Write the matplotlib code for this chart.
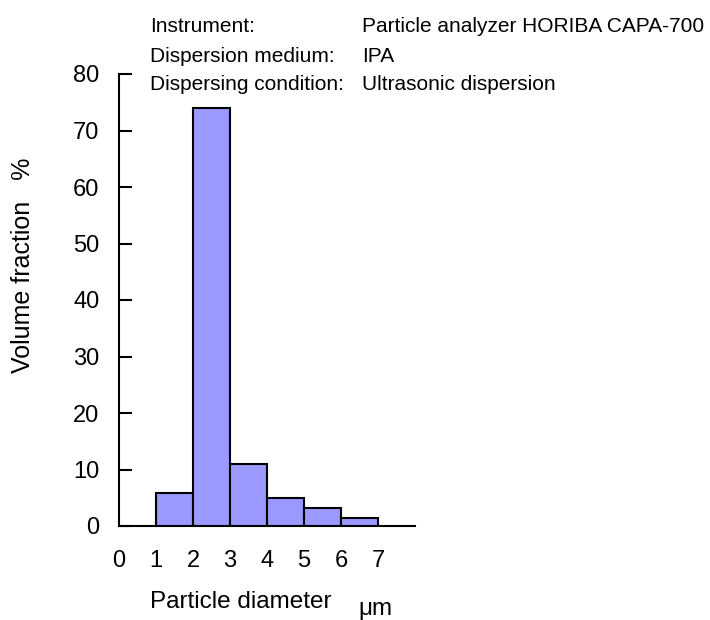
"""Particle size distribution histogram."""

import matplotlib

matplotlib.use("Agg")
import matplotlib.pyplot as plt

plt.rcParams["font.family"] = ["Liberation Sans", "DejaVu Sans"]

# bin left edges (um) and volume fraction (%)
bin_left = [1, 2, 3, 4, 5, 6]
volume_pct = [5.8, 74.0, 11.0, 5.0, 3.1, 1.4]
x_ticks = [0, 1, 2, 3, 4, 5, 6, 7]
y_ticks = [0, 10, 20, 30, 40, 50, 60, 70, 80]
info_keys = ["Instrument:", "Dispersion medium:", "Dispersing condition:"]
info_vals = ["Particle analyzer HORIBA CAPA-700", "IPA", "Ultrasonic dispersion"]

W, H = 710, 620
fig = plt.figure(figsize=(W / 100, H / 100), dpi=100)
ax = fig.add_axes([119 / W, (H - 526) / H, (415 - 119) / W, (526 - 74) / H])

ax.bar(bin_left, volume_pct, width=1.0, align="edge",
       color="#9999FF", edgecolor="black", linewidth=1.5, zorder=2)

ax.set_xlim(0, 8)
ax.set_ylim(0, 80)
ax.spines["top"].set_visible(False)
ax.spines["right"].set_visible(False)
ax.spines["left"].set_linewidth(1.5)
ax.spines["bottom"].set_linewidth(1.5)

ax.set_xticks(x_ticks)
ax.set_xticklabels([str(t) for t in x_ticks])
ax.tick_params(axis="x", length=0, pad=17, labelsize=17)
ax.set_yticks(y_ticks)
ax.tick_params(axis="y", direction="in", length=9, width=1.5, pad=14, labelsize=17)

fig.text(23 / W, 1 - 265 / H, "Volume fraction   %", rotation=90,
         ha="center", va="center", fontsize=18)
fig.text(150 / W, 1 - 602 / H, "Particle diameter", ha="left", va="center", fontsize=17.5)
fig.text(358 / W, 1 - 609 / H, "\u03bcm", ha="left", va="center", fontsize=17.5)

for i, (k, v) in enumerate(zip(info_keys, info_vals)):
    y = 1 - (27 + i * 29) / H
    fig.text(150 / W, y, k, ha="left", va="center", fontsize=15)
    fig.text(362 / W, y, v, ha="left", va="center", fontsize=15)

fig.savefig("out.png", dpi=100)
